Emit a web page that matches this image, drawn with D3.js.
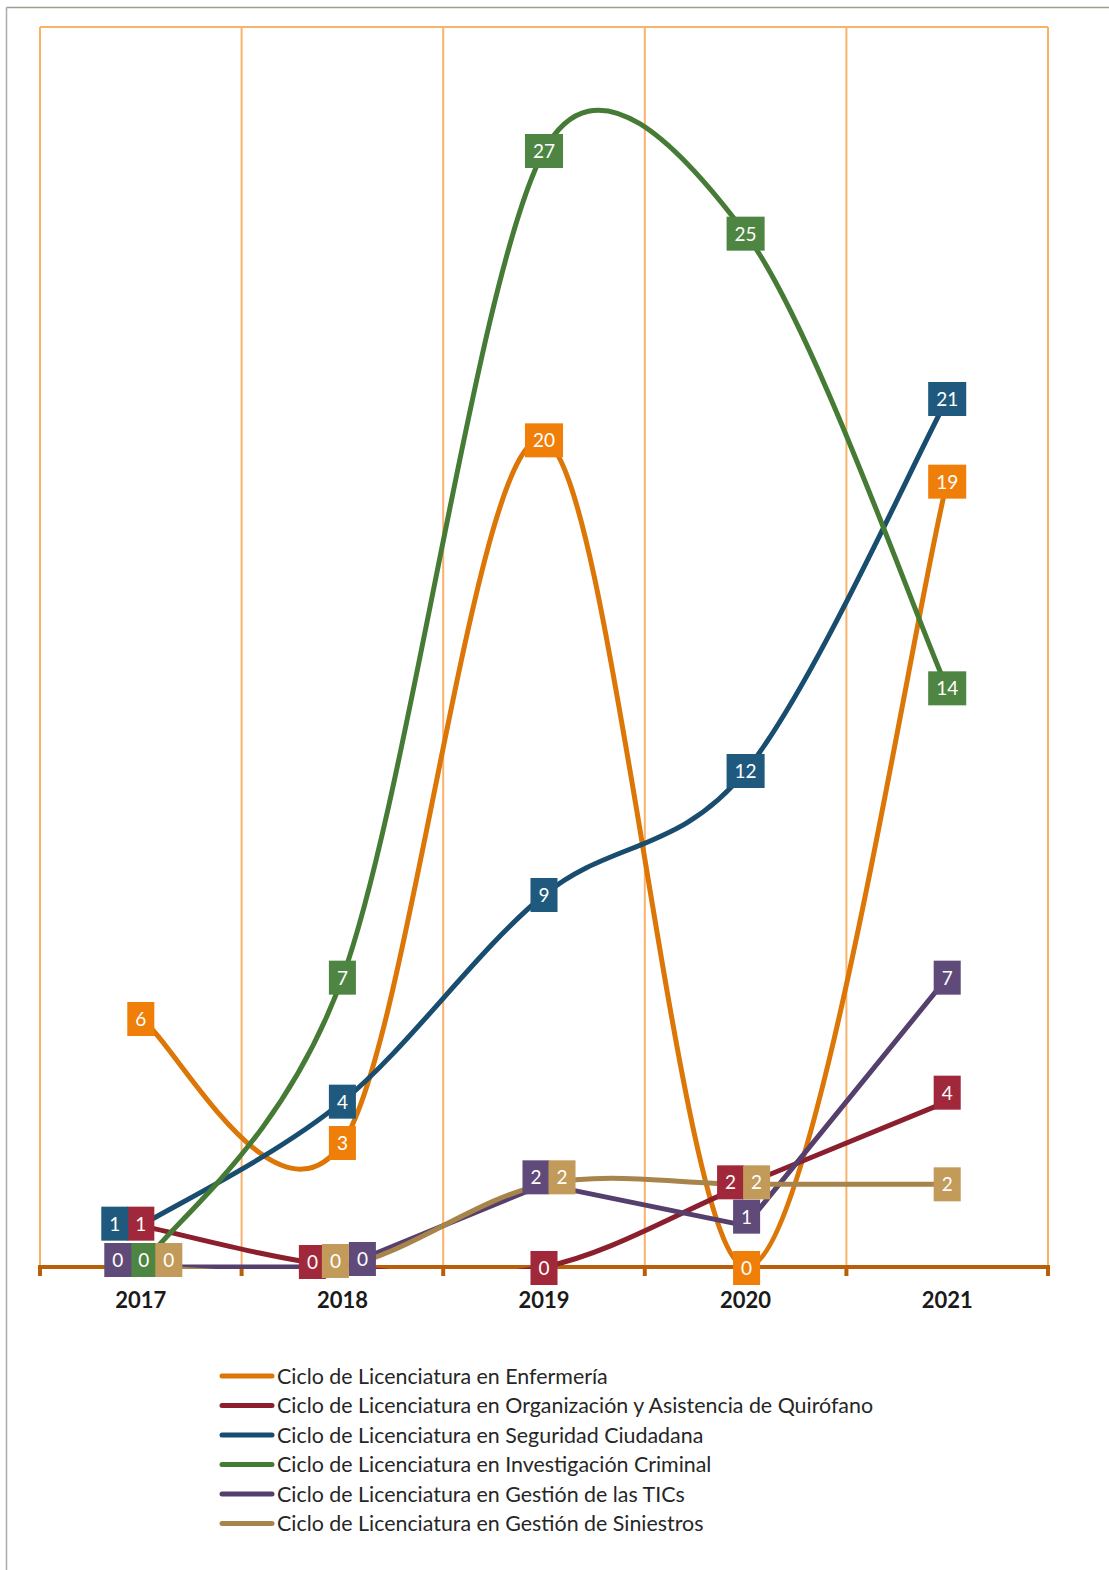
<!DOCTYPE html>
<html>
<head>
<meta charset="utf-8">
<script src="https://cdn.jsdelivr.net/npm/d3@7"></script>
<style>
  body { margin: 0; background: #fff; }
  svg { display: block; }
  .cat text { font-family: Lato, "Liberation Sans", sans-serif; font-weight: bold; font-size: 22px; fill: #1a1a1a; }
  .legend text { font-family: Lato, "Liberation Sans", sans-serif; font-size: 21.4px; fill: #262626; }
  .lbl text { font-family: Lato, "Liberation Sans", sans-serif; font-size: 19px; fill: #fff; }
</style>
</head>
<body>
<svg id="chart"></svg>
<script>
const years = ['2017', '2018', '2019', '2020', '2021'];

const seriesNames = [
  'Ciclo de Licenciatura en Enfermería',
  'Ciclo de Licenciatura en Organización y Asistencia de Quirófano',
  'Ciclo de Licenciatura en Seguridad Ciudadana',
  'Ciclo de Licenciatura en Investigación Criminal',
  'Ciclo de Licenciatura en Gestión de las TICs',
  'Ciclo de Licenciatura en Gestión de Siniestros'
];

const enfermeria = [6, 3, 20, 0, 19];
const quirofano = [1, 0, 0, 2, 4];
const seguridad = [1, 4, 9, 12, 21];
const investigacion = [0, 7, 27, 25, 14];
const tics = [0, 0, 2, 1, 7];
const siniestros = [0, 0, 2, 2, 2];

const seriesValues = [enfermeria, quirofano, seguridad, investigacion, tics, siniestros];

const lineColors = ['#dc7606', '#8c1f2e', '#184d6f', '#457b35', '#553f6c', '#a8844d'];
const boxColors = ['#f07f09', '#a0283a', '#1f5a7e', '#4e8542', '#5f4a7a', '#c29a5a'];
// the TICs series is drawn with straight segments in the original
const smoothed = [true, true, true, true, false, true];

const width = 1109;
const height = 1570;
const plot = { left: 40, right: 1048, top: 27, bottom: 1267 };

const svg = d3.select('#chart')
  .attr('width', width)
  .attr('height', height);

const x = d3.scaleBand()
  .domain(years)
  .range([plot.left, plot.right]);

const y = d3.scaleLinear()
  .domain([0, 30])
  .range([plot.bottom, plot.top]);

const cx = d => x(d) + x.bandwidth() / 2;

svg.append('clipPath')
  .attr('id', 'plotClip')
  .append('rect')
  .attr('x', plot.left).attr('y', plot.top)
  .attr('width', plot.right - plot.left)
  .attr('height', plot.bottom - plot.top + 2);

// outer frame (only top and left edges show in the picture)
svg.append('line')
  .attr('x1', 6.5).attr('x2', width).attr('y1', 7.5).attr('y2', 7.5)
  .attr('stroke', '#a39b91').attr('stroke-width', 1.5);
svg.append('line')
  .attr('x1', 6.5).attr('x2', 6.5).attr('y1', 7.5).attr('y2', height)
  .attr('stroke', '#abaab0').attr('stroke-width', 1.5);

// vertical gridlines between categories + top border
const gridX = years.map(d => x(d)).concat([plot.right]);
svg.append('g')
  .selectAll('line')
  .data(gridX)
  .join('line')
  .attr('x1', d => d).attr('x2', d => d)
  .attr('y1', plot.top).attr('y2', plot.bottom)
  .attr('stroke', '#f9b26c').attr('stroke-width', 2);
svg.append('line')
  .attr('x1', plot.left).attr('x2', plot.right)
  .attr('y1', plot.top).attr('y2', plot.top)
  .attr('stroke', '#f9b26c').attr('stroke-width', 2);

// baseline with ticks
const axis = svg.append('g');
axis.selectAll('line.tick')
  .data(gridX)
  .join('line')
  .attr('class', 'tick')
  .attr('x1', d => d).attr('x2', d => d)
  .attr('y1', plot.bottom).attr('y2', plot.bottom + 9)
  .attr('stroke', '#b95f0a').attr('stroke-width', 4);
axis.append('line')
  .attr('x1', plot.left - 2).attr('x2', plot.right + 2)
  .attr('y1', plot.bottom).attr('y2', plot.bottom)
  .attr('stroke', '#b95f0a').attr('stroke-width', 4);

// Excel style smoothing: bezier through points, arms limited to half the segment
function smoothPath(pts) {
  const p = d3.path();
  p.moveTo(pts[0][0], pts[0][1]);
  for (let i = 0; i < pts.length - 1; ++i) {
    const p0 = pts[i - 1] || pts[i];
    const p1 = pts[i];
    const p2 = pts[i + 1];
    const p3 = pts[i + 2] || pts[i + 1];
    const seg = Math.hypot(p2[0] - p1[0], p2[1] - p1[1]);
    let a1 = [(p2[0] - p0[0]) / 6, (p2[1] - p0[1]) / 6];
    let a2 = [(p3[0] - p1[0]) / 6, (p3[1] - p1[1]) / 6];
    const l1 = Math.hypot(a1[0], a1[1]);
    const l2 = Math.hypot(a2[0], a2[1]);
    if (l1 > seg / 2) a1 = a1.map(v => v * seg / 2 / l1);
    if (l2 > seg / 2) a2 = a2.map(v => v * seg / 2 / l2);
    p.bezierCurveTo(p1[0] + a1[0], p1[1] + a1[1], p2[0] - a2[0], p2[1] - a2[1], p2[0], p2[1]);
  }
  return p.toString();
}

const straight = d3.line();

svg.append('g')
  .attr('clip-path', 'url(#plotClip)')
  .selectAll('path')
  .data(seriesValues)
  .join('path')
  .attr('d', (vals, s) => {
    const pts = vals.map((v, i) => [cx(years[i]), y(v)]);
    return smoothed[s] ? smoothPath(pts) : straight(pts);
  })
  .attr('fill', 'none')
  .attr('stroke', (d, i) => lineColors[i])
  .attr('stroke-width', 5)
  .attr('stroke-linecap', 'round')
  .attr('stroke-linejoin', 'round');

svg.append('g')
  .attr('class', 'cat')
  .selectAll('text')
  .data(years)
  .join('text')
  .attr('x', d => cx(d))
  .attr('y', 1308)
  .attr('text-anchor', 'middle')
  .text(d => d);

// nudges for overlapping labels: key "series-category" -> [dx, dy]
const nudge = {
  '2-0': [-26, -2], '1-0': [0, -2],
  '4-0': [-23, -7], '3-0': [3, -7], '5-0': [28, -7],
  '1-1': [-30, -5], '5-1': [-7, -6], '4-1': [20, -8],
  '4-2': [-8, -7], '5-2': [18, -7], '1-2': [0, 1],
  '1-3': [-15, -2], '5-3': [11, -2], '4-3': [1, -9], '0-3': [1, 1],
  '1-4': [0, -9]
};

const labels = [];
seriesValues.forEach((vals, s) => {
  vals.forEach((v, i) => {
    const n = nudge[`${s}-${i}`] || [0, 0];
    labels.push({ s, v, x: cx(years[i]) + n[0], y: y(v) + n[1] });
  });
});

const lbl = svg.append('g')
  .attr('class', 'lbl')
  .selectAll('g')
  .data(labels)
  .join('g')
  .attr('transform', d => `translate(${d.x},${d.y})`);

lbl.append('rect')
  .attr('fill', d => boxColors[d.s]);
lbl.append('text')
  .attr('text-anchor', 'middle')
  .attr('dy', '0.36em')
  .text(d => d.v);
lbl.each(function () {
  const g = d3.select(this);
  const w = g.select('text').node().getComputedTextLength() + 16;
  g.select('rect')
    .attr('x', -w / 2).attr('y', -17)
    .attr('width', w).attr('height', 34);
});

// legend
const legend = svg.append('g')
  .attr('class', 'legend')
  .selectAll('g')
  .data(seriesNames)
  .join('g')
  .attr('transform', (d, i) => `translate(0,${1376 + i * 29.5})`);

legend.append('line')
  .attr('x1', 222).attr('x2', 272)
  .attr('stroke', (d, i) => lineColors[i])
  .attr('stroke-width', 5)
  .attr('stroke-linecap', 'round');
legend.append('text')
  .attr('x', 277)
  .attr('dy', '0.35em')
  .text(d => d);
</script>
</body>
</html>
